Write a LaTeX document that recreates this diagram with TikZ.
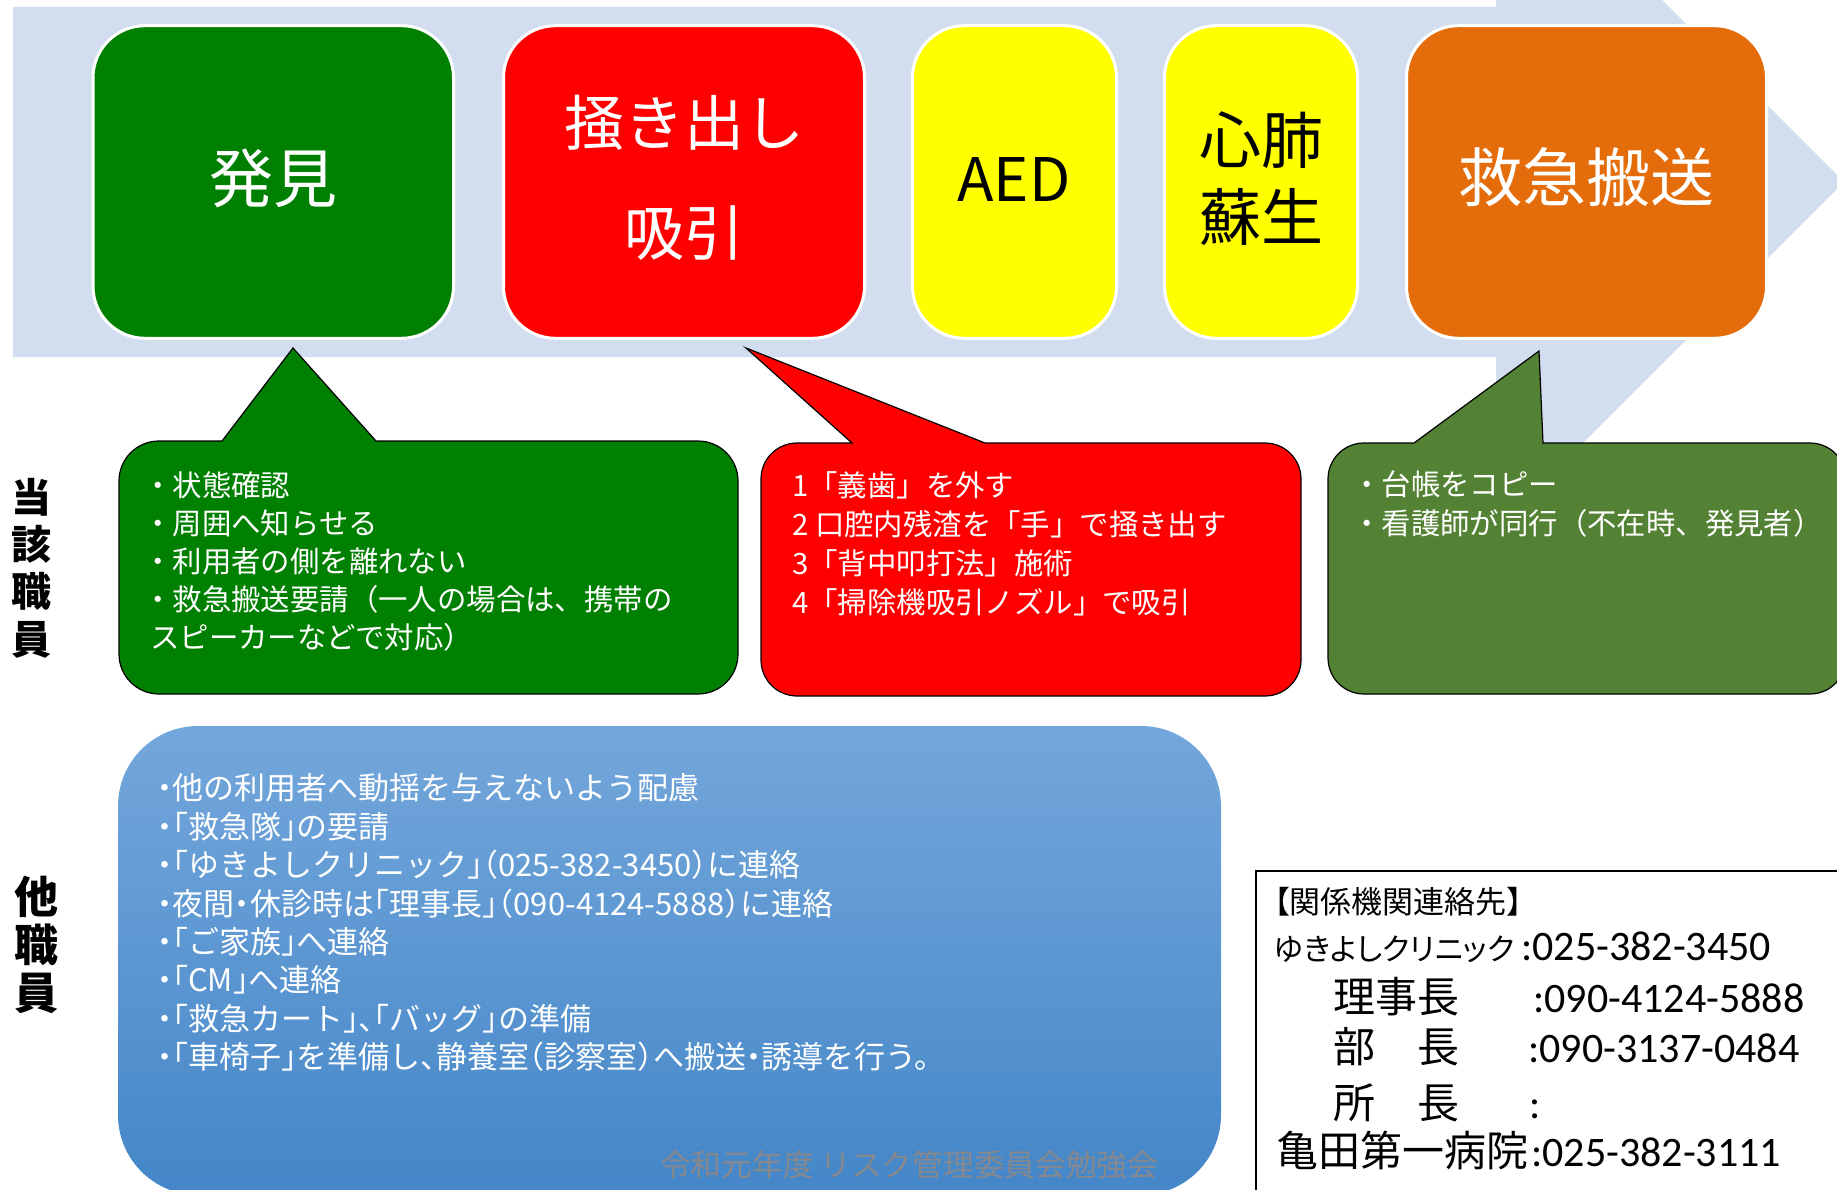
\documentclass[tikz,border=0pt]{standalone}
\usepackage{fontspec}
\setmainfont{Noto Sans CJK JP}
\newfontfamily\paltfont{Noto Sans CJK JP}[RawFeature={+palt}]
\newfontfamily\haltfont{Noto Sans CJK JP}[RawFeature={+halt}]
\newfontfamily\calfont{Carlito}
\newcommand\setfs[1]{\fontsize{#1}{#1}\selectfont}
\definecolor{band}{RGB}{210,222,239}
\definecolor{cgreen}{RGB}{0,128,0}
\definecolor{cred}{RGB}{255,0,0}
\definecolor{cyellow}{RGB}{255,255,0}
\definecolor{corange}{RGB}{228,108,10}
\definecolor{colive}{RGB}{84,130,53}
\definecolor{btop}{RGB}{116,167,219}
\definecolor{bmid}{RGB}{85,152,218}
\definecolor{bbot}{RGB}{68,134,200}
\definecolor{wmark}{RGB}{134,136,142}
\begin{document}
\begin{tikzpicture}[x=1pt,y=1pt,
  topbox/.style={draw=white, line width=3pt, rounded corners=52pt, minimum height=312.6pt, inner sep=0pt},
  callout/.style={draw=black, line width=1.2pt},
  cl/.style={anchor=base west, inner sep=0pt, text=white, font=\setfs{29.4}},
  bl/.style={anchor=base west, inner sep=0pt, text=white, font=\haltfont\setfs{31}},
  ct/.style={anchor=base west, inner sep=0pt, text=black},
  lab/.style={align=center, inner sep=0pt, text=black}]
\useasboundingbox (0,0) rectangle (1837,-1190);
\clip (0,0) rectangle (1837,-1190);
\fill[white] (0,0) rectangle (1837,-1190);

% background arrow
\fill[band] (13,-7) -- (1496,-7) -- (1496,166) -- (1844,-182) -- (1496,-530) -- (1496,-357) -- (13,-357) -- cycle;

% top boxes
\node[topbox, fill=cgreen, minimum width=360.5pt] (b1) at (273.25,-182) {};
\node[topbox, fill=cred, minimum width=361pt] (b2) at (684,-182) {};
\node[topbox, fill=cyellow, minimum width=204pt] (b3) at (1014.5,-182) {};
\node[topbox, fill=cyellow, minimum width=193pt] (b4) at (1261,-182) {};
\node[topbox, fill=corange, minimum width=360pt] (b5) at (1586.5,-182) {};

\node[inner sep=0pt, text=white, font=\setfs{64}] (t1) at (273,-178) {発見};
\node[inner sep=0pt, text=white, align=center, font=\fontsize{60}{110}\selectfont] (t2) at (684,-178) {掻き出し\\吸引};
\node[inner sep=0pt, text=black, font=\setfs{60}] (t3) at (1014,-180) {AED};
\node[inner sep=0pt, text=black, align=center, font=\fontsize{62}{77}\selectfont] (t4) at (1261,-178.5) {心肺\\蘇生};
\node[inner sep=0pt, text=white, font=\setfs{64}] (t5) at (1586,-177) {救急搬送};

% callouts
\draw[callout, fill=cgreen] (159,-441) -- (222,-441) -- (293,-348) -- (376,-441) -- (698,-441)
  arc[start angle=90,end angle=0,radius=40] -- (738,-654)
  arc[start angle=0,end angle=-90,radius=40] -- (159,-694)
  arc[start angle=270,end angle=180,radius=40] -- (119,-481)
  arc[start angle=180,end angle=90,radius=40] -- cycle;
\draw[callout, fill=cred] (797,-443) -- (852,-443) -- (746,-348) -- (985,-443) -- (1265,-443)
  arc[start angle=90,end angle=0,radius=36] -- (1301,-660)
  arc[start angle=0,end angle=-90,radius=36] -- (797,-696)
  arc[start angle=270,end angle=180,radius=36] -- (761,-479)
  arc[start angle=180,end angle=90,radius=36] -- cycle;
\draw[callout, fill=colive] (1364,-443) -- (1414,-443) -- (1539,-351) -- (1543,-443) -- (1810,-443)
  arc[start angle=90,end angle=0,radius=36] -- (1846,-658)
  arc[start angle=0,end angle=-90,radius=36] -- (1364,-694)
  arc[start angle=270,end angle=180,radius=36] -- (1328,-479)
  arc[start angle=180,end angle=90,radius=36] -- cycle;

% callout texts
\node[cl] (g1) at (143,-496) {・状態確認};
\node[cl] (g2) at (143,-534) {・周囲へ知らせる};
\node[cl] (g3) at (143,-572) {・利用者の側を離れない};
\node[cl] (g4) at (143,-610) {・救急搬送要請（一人の場合は、携帯の};
\node[cl] (g5) at (150,-648) {スピーカーなどで対応）};

\node[cl] (r1) at (792,-496) {1「義歯」を外す};
\node[cl] (r2) at (792,-535) {2 口腔内残渣を「手」で掻き出す};
\node[cl] (r3) at (792,-574) {3「背中叩打法」施術};
\node[cl] (r4) at (792,-613) {4「掃除機吸引ノズル」で吸引};

\node[cl] (o1) at (1352,-495) {・台帳をコピー};
\node[cl] (o2) at (1352,-534) {・看護師が同行（不在時、発見者）};

% blue box
\shade[top color=btop, middle color=bmid, bottom color=bbot, rounded corners=80pt] (118,-726) rectangle (1221,-1195);
\node[bl] (u1) at (157,-799.8) {・他の利用者へ動揺を与えないよう配慮};
\node[bl] (u2) at (157,-838.2) {・「救急隊」の要請};
\node[bl] (u3) at (157,-876.6) {・「ゆきよしクリニック」（025-382-3450）に連絡};
\node[bl] (u4) at (157,-915) {・夜間・休診時は「理事長」（090-4124-5888）に連絡};
\node[bl] (u5) at (157,-953.4) {・「ご家族」へ連絡};
\node[bl] (u6) at (157,-991.8) {・「CM」へ連絡};
\node[bl] (u7) at (157,-1030.2) {・「救急カート」、「バッグ」の準備};
\node[bl] (u8) at (157,-1068.6) {・「車椅子」を準備し、静養室（診察室）へ搬送・誘導を行う。};
\node[anchor=base west, inner sep=0pt, text=wmark, font=\setfs{30.7}] (wm) at (660,-1176) {令和元年度 リスク管理委員会勉強会};

% side labels
\node[lab, font=\bfseries\fontsize{40}{47.3}\selectfont] (l1) at (31,-568) {当\\該\\職\\員};
\node[lab, font=\bfseries\fontsize{44}{48}\selectfont] (l2) at (36,-945) {他\\職\\員};

% contact box
\draw[line width=2pt, fill=white] (1256,-871) rectangle (1870,-1220);
\node[ct, font=\paltfont\setfs{31}] (c0) at (1274,-913) {【関係機関連絡先】};
\node[ct, font=\paltfont\setfs{30.5}] (c1) at (1274,-960) {ゆきよしクリニック};
\node[ct, font=\calfont\setfs{42}] (n1) at (1521,-960) {:025-382-3450};
\node[ct, font=\setfs{42}] (c2) at (1333,-1012) {理事長};
\node[ct, font=\calfont\setfs{42}] (n2) at (1533,-1012) {:090-4124-5888};
\node[ct, font=\setfs{42}] (c3) at (1333,-1062) {部　長};
\node[ct, font=\calfont\setfs{42}] (n3) at (1528,-1062) {:090-3137-0484};
\node[ct, font=\setfs{42}] (c4) at (1333,-1118.5) {所　長};
\node[ct, font=\calfont\setfs{42}] (n4) at (1529,-1118.5) {:};
\node[ct, font=\setfs{42}] (c5) at (1276,-1166) {亀田第一病院};
\node[ct, font=\calfont\setfs{42}] (n5) at (1531,-1166) {:025-382-3111};
\end{tikzpicture}
\end{document}
